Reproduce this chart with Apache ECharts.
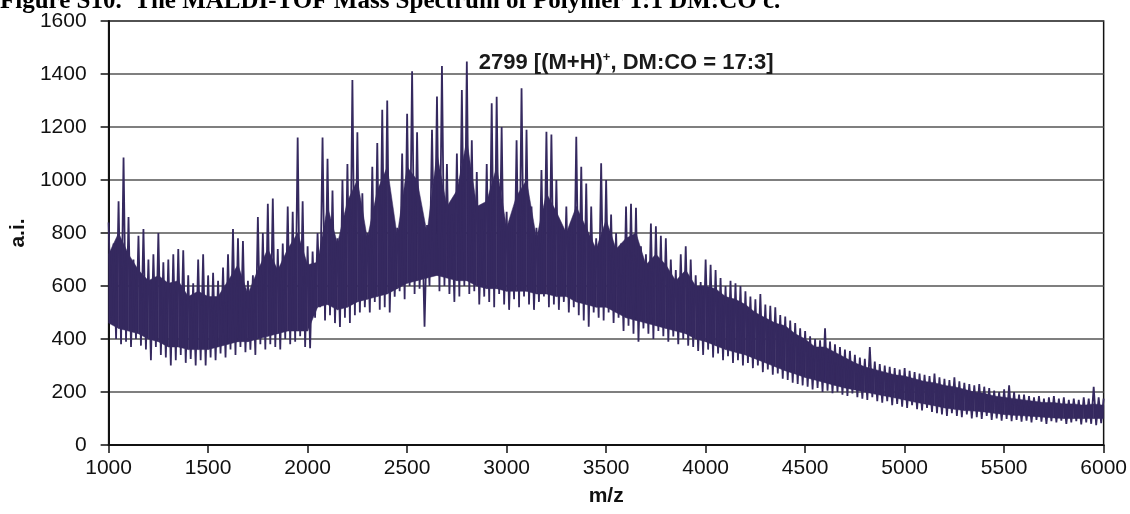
<!DOCTYPE html>
<html><head><meta charset="utf-8">
<script src="https://cdn.jsdelivr.net/npm/echarts@6/dist/echarts.min.js"></script>
<style>html,body{margin:0;padding:0;background:#fff}#c{width:1130px;height:514px}</style>
</head><body><div id="c"></div>
<script>
// ---- data ----
const titleText = 'Figure S10.  The MALDI-TOF Mass Spectrum of Polymer 1:1 DM:CO c.';
const xName = 'm/z';
const yName = 'a.i.';
const xMin = 1000, xMax = 6000, xInterval = 500;
const yMin = 0, yMax = 1600, yInterval = 200;

// spectrum tops (m/z = 1000, 1025, ... 6000)
const topStart = 1000, topStep = 25;
const upper = [
  840,760,920,1085,860,700,790,815,
  700,720,800,690,700,720,740,735,
  640,610,700,720,640,650,620,670,
  720,815,780,770,620,640,860,800,
  910,930,740,760,900,880,1160,920,
  750,730,800,1160,1080,960,780,1000,
  1060,1377,1180,950,800,1050,1140,1265,
  1300,880,820,1100,1250,1410,1180,860,
  830,1190,1315,1430,1060,870,1100,1340,
  1447,1150,1030,850,1060,1290,1314,1200,
  880,830,1150,1346,1190,900,820,1038,
  1182,1172,1000,820,900,840,1163,1050,
  987,900,780,1063,1000,870,800,760,
  900,910,895,750,720,836,825,790,
  780,700,660,720,750,700,640,615,
  700,680,660,630,600,620,610,600,
  580,560,550,570,530,525,520,490,
  485,470,460,440,430,410,400,395,
  440,390,380,370,360,355,340,330,
  325,370,315,305,300,295,290,285,
  290,280,275,270,265,260,270,255,
  250,245,255,240,235,230,225,230,
  220,215,205,200,210,225,200,190,
  190,185,180,185,175,180,185,175,
  180,170,175,170,180,175,220,180,
  175
];
// spectrum valleys (m/z = 1012.5, 1037.5, ... 5987.5)
const lowStart = 1012.5, lowStep = 25;
const lower = [
  480,400,380,390,370,400,375,360,
  320,370,340,330,300,320,340,310,
  325,300,320,300,330,320,345,330,
  360,340,370,350,360,340,380,360,
  380,370,360,400,380,390,410,370,
  365,480,520,470,490,460,445,480,
  460,490,500,520,500,540,510,520,
  500,560,580,550,600,570,590,446,
  600,640,580,600,570,540,560,600,
  570,580,530,560,540,520,570,530,
  510,550,520,560,530,510,540,560,
  520,530,510,540,500,520,490,470,
  446,500,480,470,500,460,480,430,
  450,420,390,440,420,400,430,410,
  390,410,380,400,375,370,355,340,
  360,330,345,320,335,310,320,300,
  310,290,300,275,285,265,270,250,
  245,235,230,225,220,210,215,200,
  205,195,200,190,185,195,180,175,
  170,180,165,160,165,150,155,145,
  140,150,135,130,140,125,120,115,
  110,120,110,105,115,100,105,98,
  110,95,100,92,98,90,95,88,
  92,85,95,88,80,90,85,92,
  80,85,90,78,85,80,75,82
];
// solid (dense) part of the trace, m/z = 1000, 1050, ... 6000
const coreStart = 1000, coreStep = 50;
const coreHi = [
  720,800,720,660,620,640,610,620,560,580,   // 1000-1450
  560,560,620,680,570,660,740,660,740,800,   // 1500-1950
  680,690,900,760,920,1000,780,960,1050,790, // 2000-2450
  1050,1000,800,1100,900,960,1150,900,920,1050, // 2500-2950
  820,940,1000,780,950,880,800,900,820,740,  // 3000-3450
  850,740,780,800,680,720,680,620,660,600,   // 3500-3950
  600,590,560,550,530,500,480,460,450,420,   // 4000-4450
  400,370,370,350,330,310,295,285,275,265,   // 4500-4950
  260,250,240,235,225,220,210,200,195,185,   // 5000-5450
  180,175,170,165,160,160,155,155,150,155,   // 5500-5950
  150
];
const coreLo = [
  460,440,430,420,400,390,370,370,360,360,   // 1000-1450
  360,370,380,390,390,400,410,420,430,430,   // 1500-1950
  430,520,530,510,520,540,550,560,570,590,   // 2000-2450
  610,620,630,640,630,620,620,600,590,590,   // 2500-2950
  580,580,580,570,570,560,560,540,530,520,   // 3000-3450
  520,500,480,470,460,450,440,430,420,400,   // 3500-3950
  390,375,360,350,340,325,310,295,280,268,   // 4000-4450
  255,245,235,225,215,208,200,192,185,178,   // 4500-4950
  170,162,155,148,140,135,130,128,125,120,   // 5000-5450
  115,112,110,108,105,102,100,100,100,100,   // 5500-5950
  100
];
// annotation
const annotMz = 2860, annotValue = 1442;
const annotParts = ['2799 [(M+H)', '+', ', DM:CO = 17:3]'];

// ---- build series data ----
const spectrum = [];
for (let i = 0; i < upper.length; i++) {
  spectrum.push([topStart + i * topStep, upper[i]]);
  if (i < lower.length) spectrum.push([lowStart + i * lowStep, lower[i]]);
}
// band segments: [mz0, lo0, hi0, mz1, lo1, hi1]
const coreSegs = [];
for (let i = 0; i < coreHi.length - 1; i++) {
  coreSegs.push([coreStart + i * coreStep, coreLo[i], coreHi[i],
                 coreStart + (i + 1) * coreStep, coreLo[i + 1], coreHi[i + 1]]);
}

const ink = '#35295f';
const sans = "'Liberation Sans', Arial, sans-serif";

const chart = echarts.init(document.getElementById('c'), null, {renderer: 'canvas'});
chart.setOption({
  animation: false,
  backgroundColor: '#fff',
  graphic: [{
    type: 'text', left: 0, top: -11,
    style: {text: titleText, font: "bold 25px 'Liberation Serif', 'Times New Roman', serif", fill: '#000'}
  }],
  grid: {left: 107, right: 26, top: 21, bottom: 69, show: true, borderColor: '#111', borderWidth: 1.5, backgroundColor: 'transparent'},
  xAxis: {
    type: 'value', min: xMin, max: xMax, interval: xInterval,
    name: xName, nameLocation: 'middle', nameGap: 41,
    nameTextStyle: {fontFamily: sans, fontSize: 21, fontWeight: 'bold', color: '#111'},
    axisLine: {show: true, onZero: false, lineStyle: {color: '#111', width: 2}},
    axisTick: {show: true, length: 8, lineStyle: {color: '#111', width: 1.5}},
    axisLabel: {fontFamily: sans, fontSize: 21, color: '#111', margin: 13, formatter: v => String(v)},
    splitLine: {show: false}
  },
  yAxis: {
    type: 'value', min: yMin, max: yMax, interval: yInterval,
    name: yName, nameLocation: 'middle', nameGap: 76, nameRotate: 90,
    nameTextStyle: {fontFamily: sans, fontSize: 21, fontWeight: 'bold', color: '#111'},
    axisLine: {show: true, lineStyle: {color: '#111', width: 2}},
    axisTick: {show: true, length: 8, lineStyle: {color: '#111', width: 1.5}},
    axisLabel: {fontFamily: sans, fontSize: 21, color: '#111', margin: 22, formatter: v => String(v)},
    splitLine: {show: true, lineStyle: {color: '#555', width: 1.5}}
  },
  series: [
    {type: 'custom', data: coreSegs, silent: true, z: 2, clip: true,
     encode: {x: [0, 3], y: [1, 2, 4, 5]},
     renderItem: function (params, api) {
       const a = api.coord([api.value(0), api.value(1)]);
       const b = api.coord([api.value(0), api.value(2)]);
       const c = api.coord([api.value(3), api.value(5)]);
       const d = api.coord([api.value(3), api.value(4)]);
       return {type: 'polygon', shape: {points: [a, b, c, d]},
               style: {fill: ink, stroke: ink, lineWidth: 0.5}};
     }},
    {type: 'line', data: spectrum, symbol: 'none', sampling: null, silent: true,
     lineStyle: {color: ink, width: 1.8}, z: 3},
    {type: 'scatter', data: [[annotMz, annotValue]], symbolSize: 0, silent: true, z: 5,
     itemStyle: {opacity: 1},
     label: {show: true, position: [0, 0], align: 'left', verticalAlign: 'middle', opacity: 1,
       formatter: '{a|' + annotParts[0] + '}{s|' + annotParts[1] + '}{a|' + annotParts[2] + '}',
       rich: {
         a: {fontFamily: sans, fontSize: 22, fontWeight: 'bold', color: '#1a1a1a', lineHeight: 24},
         s: {fontFamily: sans, fontSize: 13, fontWeight: 'bold', color: '#1a1a1a', lineHeight: 13, verticalAlign: 'top'}
       }}}
  ]
});
</script></body></html>
